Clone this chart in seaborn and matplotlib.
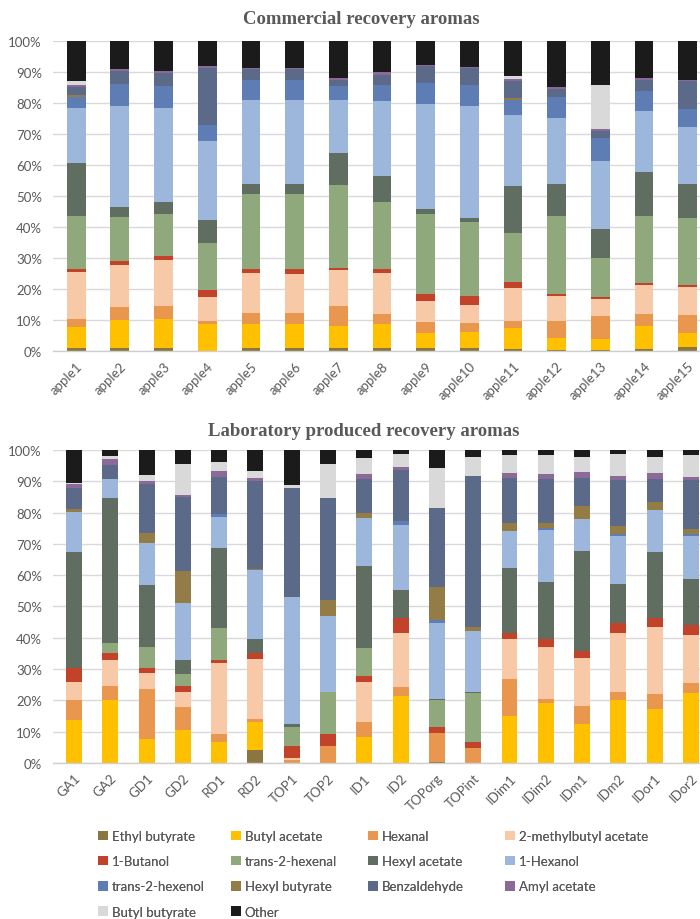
import matplotlib
matplotlib.use("Agg")
import matplotlib.pyplot as plt
import numpy as np
import pandas as pd
import seaborn as sns
from matplotlib.patches import Patch

# ---- compounds (stacking order, bottom to top) and their colours ----
compounds = ["Ethyl butyrate", "Butyl acetate", "Hexanal", "2-methylbutyl acetate",
             "1-Butanol", "trans-2-hexenal", "Hexyl acetate", "1-Hexanol",
             "trans-2-hexenol", "Hexyl butyrate", "Benzaldehyde", "Amyl acetate",
             "Butyl butyrate", "Other"]
palette = ["#8C7640", "#FFC000", "#E9964F", "#F7C9A6",
           "#C3432A", "#8FA97D", "#5F6E60", "#9DB6DC",
           "#5E7DB5", "#947C46", "#5B6A89", "#8C6A97",
           "#D9D9D9", "#1B1B1B"]

# ---- commercial recovery aromas (% of total area) ----
commercial_samples = ["apple1", "apple2", "apple3", "apple4", "apple5", "apple6", "apple7",
                      "apple8", "apple9", "apple10", "apple11", "apple12", "apple13",
                      "apple14", "apple15"]
com_ethyl_butyrate = [0.8, 1.1, 1.1, 0, 1.0, 1.0, 1.0, 0.9, 0.9, 0.9, 0.8, 0.4, 0.2, 0.5, 1.3]
com_butyl_acetate = [6.9, 9.0, 9.3, 8.6, 7.8, 7.8, 7.2, 7.9, 5.0, 5.3, 6.7, 3.9, 3.8, 7.7, 4.6]
com_hexanal = [2.6, 4.1, 4.0, 1.1, 3.5, 3.5, 6.2, 3.2, 3.5, 2.8, 2.2, 5.4, 7.2, 3.7, 5.8]
com_methylbutyl_acetate = [14.9, 13.4, 14.8, 7.7, 12.9, 12.4, 11.6, 13.2, 6.6, 5.7, 10.7, 8.0, 5.5, 9.3, 8.9]
com_butanol = [1.0, 1.3, 1.6, 2.2, 1.3, 1.6, 0.8, 1.4, 2.5, 2.9, 1.9, 0.7, 0.7, 0.8, 0.8]
com_hexenal = [17.0, 14.3, 13.5, 15.2, 24.0, 24.2, 26.9, 21.5, 25.8, 24.0, 15.8, 25.3, 12.7, 21.5, 21.6]
com_hexyl_acetate = [17.1, 3.4, 3.8, 7.6, 3.3, 3.3, 10.1, 8.4, 1.5, 1.3, 15.0, 10.3, 9.1, 14.2, 11.0]
com_hexanol = [17.5, 32.4, 30.4, 25.2, 27.3, 27.3, 17.3, 24.0, 34.0, 36.1, 23.2, 21.2, 22.1, 19.7, 18.3]
com_hexenol = [3.7, 7.3, 7.0, 5.3, 6.4, 6.4, 4.3, 5.4, 6.7, 6.9, 4.6, 6.7, 7.5, 6.4, 5.7]
com_hexyl_butyrate = [0.6, 0, 0, 0, 0, 0, 0, 0, 0, 0, 0.6, 0, 0, 0, 0]
com_benzaldehyde = [2.7, 4.1, 4.3, 18.5, 3.5, 3.4, 2.1, 3.3, 5.3, 5.4, 5.6, 2.7, 2.1, 3.7, 9.0]
com_amyl_acetate = [0.5, 0.5, 0.4, 0.4, 0.4, 0.4, 0.5, 0.7, 0.5, 0.4, 0.5, 0.6, 0.6, 0.7, 0.5]
com_butyl_butyrate = [1.4, 0, 0, 0, 0, 0, 0, 0, 0, 0, 1.1, 0, 14.2, 0, 0]
com_other = [12.7, 9.1, 9.8, 8.2, 8.6, 8.7, 12.0, 10.1, 7.7, 8.3, 11.3, 14.8, 14.3, 11.8, 12.5]

# ---- laboratory produced recovery aromas (% of total area) ----
lab_samples = ["GA1", "GA2", "GD1", "GD2", "RD1", "RD2", "TOP1", "TOP2", "ID1", "ID2",
               "TOPorg", "TOPint", "IDim1", "IDim2", "IDm1", "IDm2", "IDor1", "IDor2"]
lab_ethyl_butyrate = [0, 0, 0, 0, 0, 4.1, 0, 0, 0, 0, 0.3, 0, 0, 0, 0, 0, 0, 0]
lab_butyl_acetate = [13.6, 20.0, 7.5, 10.4, 6.7, 8.9, 0, 0, 8.2, 21.3, 0, 0, 14.9, 19.2, 12.3, 20.0, 17.1, 22.3]
lab_hexanal = [6.4, 4.7, 16.2, 7.6, 2.6, 0.9, 1.0, 5.3, 4.9, 3.0, 9.2, 4.8, 12.0, 1.1, 5.8, 2.7, 5.0, 3.1]
lab_methylbutyl_acetate = [5.9, 8.1, 5.0, 4.7, 22.6, 19.2, 0.6, 0, 12.8, 17.3, 0, 0, 12.8, 16.7, 15.3, 18.8, 21.3, 15.5]
lab_butanol = [4.3, 2.4, 1.6, 2.0, 0.9, 2.1, 3.7, 3.8, 1.8, 4.6, 2.0, 1.8, 1.9, 2.7, 2.4, 3.3, 3.0, 3.1]
lab_hexenal = [0, 3.0, 6.8, 3.6, 10.2, 0, 6.3, 13.6, 8.9, 0, 8.7, 15.7, 0, 0, 0, 0, 0, 0]
lab_hexyl_acetate = [37.2, 46.6, 19.7, 4.5, 25.8, 4.3, 0.7, 0, 26.4, 9.1, 0.3, 0.4, 20.8, 18.1, 32.0, 12.3, 21.0, 14.7]
lab_hexanol = [12.9, 5.8, 13.4, 18.4, 9.9, 22.1, 40.7, 24.2, 15.4, 20.7, 24.3, 19.5, 11.8, 16.6, 10.1, 15.5, 13.4, 13.9]
lab_hexenol = [0, 0, 0, 0, 1.0, 0, 0, 0, 0, 1.2, 0.8, 0, 0, 0.8, 0, 0.7, 0, 0.7]
lab_hexyl_butyrate = [1.0, 0, 3.2, 10.2, 0, 0.4, 0, 5.2, 1.6, 0, 10.6, 1.4, 2.4, 1.6, 4.3, 2.5, 2.7, 1.3]
lab_benzaldehyde = [6.4, 4.7, 15.7, 23.7, 11.8, 28.0, 34.7, 32.5, 10.7, 16.4, 25.2, 48.2, 14.4, 13.9, 8.8, 14.6, 7.2, 15.8]
lab_amyl_acetate = [1.4, 1.8, 1.1, 0.5, 1.7, 1.2, 0, 0, 1.6, 1.1, 0, 0, 1.5, 1.6, 2.1, 1.2, 1.8, 1.1]
lab_butyl_butyrate = [0.4, 0.9, 1.8, 9.9, 2.9, 2.0, 1.1, 10.9, 5.1, 4.0, 12.8, 5.9, 5.9, 6.1, 4.8, 7.1, 5.4, 6.9]
lab_other = [10.5, 2.0, 8.0, 4.5, 3.9, 6.8, 11.2, 4.5, 2.6, 1.3, 5.8, 2.3, 1.6, 1.6, 2.1, 1.3, 2.1, 1.6]

commercial_series = [com_ethyl_butyrate, com_butyl_acetate, com_hexanal, com_methylbutyl_acetate,
                     com_butanol, com_hexenal, com_hexyl_acetate, com_hexanol, com_hexenol,
                     com_hexyl_butyrate, com_benzaldehyde, com_amyl_acetate,
                     com_butyl_butyrate, com_other]
lab_series = [lab_ethyl_butyrate, lab_butyl_acetate, lab_hexanal, lab_methylbutyl_acetate,
              lab_butanol, lab_hexenal, lab_hexyl_acetate, lab_hexanol, lab_hexenol,
              lab_hexyl_butyrate, lab_benzaldehyde, lab_amyl_acetate,
              lab_butyl_butyrate, lab_other]

TEXT = "#595959"
GRID = "#D9D9D9"

sns.set_theme(style="white")
plt.rcParams["font.family"] = ["Lato", "DejaVu Sans"]


def stacked_long(samples, series):
    """Long table of 100%-normalised cumulative tops for each compound."""
    arr = np.array(series, dtype=float)
    arr = arr / arr.sum(axis=0) * 100.0
    cum = np.cumsum(arr, axis=0)
    rows = []
    for ci, name in enumerate(compounds):
        for si, s in enumerate(samples):
            rows.append({"sample": s, "compound": name, "top": cum[ci, si]})
    return pd.DataFrame(rows)


def draw_panel(ax, samples, series, width, xlim):
    df = stacked_long(samples, series)
    # draw the tallest cumulative layer first so lower layers sit on top of it
    for name, col in reversed(list(zip(compounds, palette))):
        sub = df[df["compound"] == name]
        sns.barplot(data=sub, x="sample", y="top", order=samples, color=col,
                    saturation=1, width=width, errorbar=None, linewidth=0, ax=ax)
    ax.set_ylim(0, 100)
    ax.set_xlim(*xlim)
    ax.set_yticks(np.arange(0, 101, 10))
    ax.set_yticklabels([f"{v}%" for v in range(0, 101, 10)])
    ax.yaxis.grid(True, color=GRID, linewidth=1.0)
    ax.set_axisbelow(True)
    for side in ["top", "right", "left"]:
        ax.spines[side].set_visible(False)
    ax.spines["bottom"].set_color("#CFCFCF")
    ax.spines["bottom"].set_linewidth(1.0)
    ax.set_xlabel("")
    ax.set_ylabel("")
    ax.tick_params(axis="both", length=0, colors=TEXT, labelsize=9.5)
    ax.tick_params(axis="y", pad=8)
    plt.setp(ax.get_xticklabels(), rotation=45, ha="right", rotation_mode="anchor")
    ax.tick_params(axis="x", pad=6)


fig = plt.figure(figsize=(7.0, 9.2), dpi=100)
ax_top = fig.add_axes([0.0757, 0.6174, 0.9243, 0.3369])
ax_bot = fig.add_axes([0.0757, 0.1696, 0.9243, 0.3402])

draw_panel(ax_top, commercial_samples, commercial_series, 0.43, (-0.53, 14.28))
draw_panel(ax_bot, lab_samples, lab_series, 0.44, (-0.58, 17.25))

title_kw = dict(ha="center", va="center", color=TEXT, fontsize=13.5,
                fontweight="bold", family=["Liberation Serif", "DejaVu Serif"])
fig.text(361 / 700, 1 - 20 / 920, "Commercial recovery aromas", **title_kw)
fig.text(364 / 700, 1 - 432 / 920, "Laboratory produced recovery aromas", **title_kw)

# legend laid out in four evenly spaced columns, filled row by row
handles = [Patch(facecolor=c, edgecolor="none") for c in palette]
col_x = [98, 231, 368, 505]
for c in range(4):
    idx = list(range(c, len(compounds), 4))
    leg = fig.legend([handles[i] for i in idx], [compounds[i] for i in idx],
                     loc="upper left", bbox_to_anchor=(col_x[c] / 700, 1 - 831 / 920),
                     frameon=False, fontsize=9.5, labelcolor=TEXT,
                     handlelength=0.75, handleheight=0.75, handletextpad=0.3,
                     labelspacing=1.0, borderaxespad=0, borderpad=0)
    fig.add_artist(leg)

fig.savefig("out.png", dpi=100, facecolor="white")
